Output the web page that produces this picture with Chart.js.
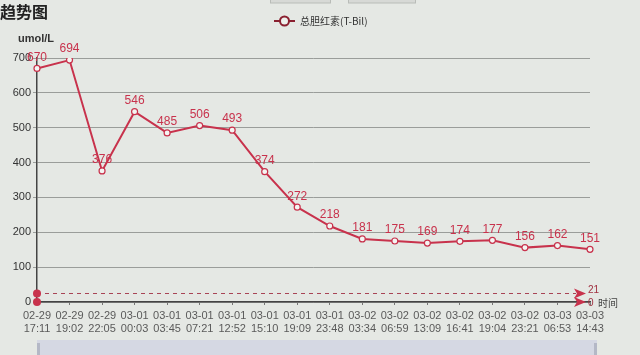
<!DOCTYPE html>
<html>
<head>
<meta charset="utf-8">
<script src="https://cdn.jsdelivr.net/npm/chart.js@4/dist/chart.umd.min.js"></script>
<style>
  html, body { margin: 0; padding: 0; background: #e5e8e4; }
  #wrap { position: relative; width: 640px; height: 355px; }
</style>
</head>
<body>
<div id="wrap"><canvas id="trend" width="640" height="355"></canvas></div>
<script>
const times = [
  ['02-29', '17:11'], ['02-29', '19:02'], ['02-29', '22:05'], ['03-01', '00:03'],
  ['03-01', '03:45'], ['03-01', '07:21'], ['03-01', '12:52'], ['03-01', '15:10'],
  ['03-01', '19:09'], ['03-01', '23:48'], ['03-02', '03:34'], ['03-02', '06:59'],
  ['03-02', '13:09'], ['03-02', '16:41'], ['03-02', '19:04'], ['03-02', '23:21'],
  ['03-03', '06:53'], ['03-03', '14:43']
];
const tbil = [670, 694, 376, 546, 485, 506, 493, 374, 272, 218, 181, 175, 169, 174, 177, 156, 162, 151];
const yTicks = [0, 100, 200, 300, 400, 500, 600, 700];
const markValues = [21, 0];

const RED = '#c8324c';
const CN = '"Noto Sans CJK SC", "Liberation Sans", sans-serif';
const NUM = '"Liberation Sans", Arial, sans-serif';

// labels, mark lines, legend, title and the bits of the page around the chart
const extras = {
  id: 'extras',
  beforeDraw(chart) {
    const ctx = chart.ctx;
    ctx.save();
    // top buttons (cut off)
    ctx.fillStyle = '#d7d9d6';
    ctx.strokeStyle = '#b9bcb8';
    ctx.fillRect(270, 0, 60, 3);
    ctx.strokeRect(270.5, -1, 60, 4);
    ctx.fillRect(348, 0, 67, 3);
    ctx.strokeRect(348.5, -1, 67, 4);
    // data zoom bar
    ctx.fillStyle = '#d5d8e3';
    ctx.fillRect(37, 340, 560, 15);
    ctx.fillStyle = '#b4b8c6';
    ctx.fillRect(37, 343, 3, 12);
    ctx.fillRect(594, 343, 3, 12);
    ctx.restore();
  },
  afterDatasetsDraw(chart) {
    const ctx = chart.ctx;
    const y = chart.scales.y;
    const area = chart.chartArea;
    ctx.save();
    // mark lines
    markValues.forEach(v => {
      const py = Math.round(y.getPixelForValue(v)) + (v === 0 ? 0 : -1.5);
      const x0 = area.left, x1 = area.right - 4;
      if (v !== 0) {
        ctx.strokeStyle = '#a84455';
        ctx.lineWidth = 1;
        ctx.setLineDash([4, 4]);
        ctx.beginPath();
        ctx.moveTo(x0, py);
        ctx.lineTo(x1 - 10, py);
        ctx.stroke();
        ctx.setLineDash([]);
      }
      ctx.fillStyle = RED;
      ctx.beginPath();
      ctx.arc(x0, py, 4, 0, Math.PI * 2);
      ctx.fill();
      ctx.beginPath();
      ctx.moveTo(x1 - 12, py - 5);
      ctx.lineTo(x1, py);
      ctx.lineTo(x1 - 12, py + 5);
      ctx.lineTo(x1 - 9, py);
      ctx.closePath();
      ctx.fill();
      ctx.fillStyle = '#a03040';
      ctx.font = '10px ' + NUM;
      ctx.textAlign = 'left';
      ctx.textBaseline = 'middle';
      ctx.fillText(String(v), x1 + 2, py - (v === 0 ? -1 : 3));
    });
    // value labels
    const meta = chart.getDatasetMeta(0);
    ctx.fillStyle = RED;
    ctx.font = '12px ' + NUM;
    ctx.textAlign = 'center';
    ctx.textBaseline = 'bottom';
    meta.data.forEach((pt, i) => {
      ctx.fillText(String(tbil[i]), pt.x, pt.y - 5);
    });
    ctx.restore();
  },
  afterDraw(chart) {
    const ctx = chart.ctx;
    const area = chart.chartArea;
    ctx.save();
    // title
    ctx.fillStyle = '#222';
    ctx.font = 'bold 16px ' + CN;
    ctx.textAlign = 'left';
    ctx.textBaseline = 'middle';
    ctx.fillText('趋势图', 0, 12);
    // y axis name
    ctx.font = 'bold 11px ' + NUM;
    ctx.fillStyle = '#333';
    ctx.textAlign = 'center';
    ctx.fillText('umol/L', 36, 39);
    // x axis name
    ctx.font = '10px ' + CN;
    ctx.textAlign = 'left';
    ctx.fillStyle = '#444';
    ctx.fillText('时间', 598, area.bottom + 1);
    // legend
    ctx.strokeStyle = '#8a2030';
    ctx.lineWidth = 2;
    ctx.beginPath();
    ctx.moveTo(274, 21);
    ctx.lineTo(295, 21);
    ctx.stroke();
    ctx.fillStyle = '#eef0ec';
    ctx.beginPath();
    ctx.arc(284.5, 21, 4.5, 0, Math.PI * 2);
    ctx.fill();
    ctx.stroke();
    ctx.fillStyle = '#333';
    ctx.font = '10px ' + CN;
    ctx.fillText('总胆红素(T-Bil)', 300, 21);
    ctx.restore();
  }
};

new Chart(document.getElementById('trend'), {
  type: 'line',
  data: {
    labels: times,
    datasets: [{
      label: '总胆红素(T-Bil)',
      data: tbil,
      borderColor: RED,
      borderWidth: 2,
      pointRadius: 3,
      pointBorderWidth: 1.2,
      pointBackgroundColor: '#f4f4f2',
      pointBorderColor: RED,
      tension: 0
    }]
  },
  options: {
    responsive: false,
    animation: false,
    layout: { padding: { left: 0, right: 50, top: 58, bottom: 23 } },
    plugins: { legend: { display: false }, tooltip: { enabled: false } },
    scales: {
      x: {
        offset: false,
        afterFit(s) { s.height = 30; },
        grid: {
          display: true,
          drawOnChartArea: false,
          drawTicks: true,
          tickLength: 3,
          color: '#777'
        },
        border: { color: '#444', width: 1.5 },
        ticks: {
          autoSkip: false,
          maxRotation: 0,
          padding: 4,
          color: '#5a5a5a',
          font: { family: NUM, size: 11 }
        }
      },
      y: {
        min: 0,
        max: 700,
        afterFit(s) { s.width = 37; },
        afterBuildTicks(s) { s.ticks = yTicks.map(v => ({ value: v })); },
        grid: { color: '#9a9d9a', tickLength: 4, drawTicks: true },
        border: { color: '#444', width: 1.5 },
        ticks: {
          padding: 2,
          color: '#333',
          font: { family: NUM, size: 11 }
        }
      }
    }
  },
  plugins: [extras]
});
</script>
</body>
</html>
